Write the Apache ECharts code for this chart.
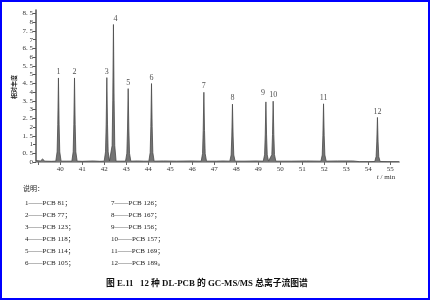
<!DOCTYPE html>
<html>
<head>
<meta charset="utf-8">
<script src="https://cdn.jsdelivr.net/npm/echarts@6/dist/echarts.min.js"></script>
<style>
html,body{margin:0;padding:0;background:#fff;}
#c{width:430px;height:300px;}
</style>
</head>
<body>
<div id="c"></div>
<script>
// Total ion chromatogram trace (retention time in min, relative abundance)
const traceTime = [
  38.90, 39.10, 39.20, 39.30, 39.60,
  39.80, 39.86, 39.89, 39.92, 39.95, 39.98, 40.04,
  40.30,
  40.53, 40.59, 40.62, 40.65, 40.68, 40.71, 40.77,
  41.00, 41.50, 41.80,
  42.00, 42.06, 42.09, 42.12, 42.15, 42.18, 42.24,
  42.30, 42.36, 42.39, 42.42, 42.45, 42.48, 42.54,
  42.75,
  42.97, 43.03, 43.06, 43.09, 43.12, 43.15, 43.21,
  43.50, 43.80,
  44.03, 44.09, 44.12, 44.15, 44.18, 44.21, 44.27,
  44.70, 45.30, 45.90,
  46.41, 46.47, 46.50, 46.53, 46.56, 46.59, 46.65,
  47.10, 47.40,
  47.71, 47.77, 47.80, 47.83, 47.86, 47.89, 47.95,
  48.40, 48.90,
  49.23, 49.29, 49.32, 49.35, 49.38, 49.41, 49.47,
  49.56, 49.62, 49.65, 49.68, 49.71, 49.74, 49.80,
  50.50, 51.20,
  51.85, 51.91, 51.94, 51.97, 52.00, 52.03, 52.09,
  52.60, 53.30, 53.60, 54.00,
  54.30, 54.36, 54.39, 54.42, 54.45, 54.48, 54.54,
  54.90, 55.40
];
const traceAbundance = [
  0.08, 0.06, 0.17, 0.05, 0.04,
  0.05, 0.58, 2.16, 4.81, 2.16, 0.58, 0.05,
  0.05,
  0.05, 0.58, 2.16, 4.81, 2.16, 0.58, 0.05,
  0.04, 0.06, 0.04,
  0.05, 0.58, 2.17, 4.83, 2.17, 0.58, 0.06,
  0.06, 0.94, 3.54, 7.87, 3.54, 0.94, 0.05,
  0.05,
  0.05, 0.50, 1.89, 4.20, 1.89, 0.50, 0.05,
  0.06, 0.05,
  0.05, 0.54, 2.02, 4.49, 2.02, 0.54, 0.05,
  0.06, 0.05, 0.06,
  0.05, 0.48, 1.80, 3.99, 1.80, 0.48, 0.05,
  0.05, 0.06,
  0.05, 0.40, 1.49, 3.31, 1.49, 0.40, 0.05,
  0.05, 0.06,
  0.05, 0.41, 1.55, 3.44, 1.55, 0.41, 0.05,
  0.05, 0.42, 1.57, 3.48, 1.57, 0.42, 0.05,
  0.05, 0.06,
  0.05, 0.40, 1.50, 3.33, 1.50, 0.40, 0.05,
  0.06, 0.06, 0.02, 0.02,
  0.03, 0.31, 1.15, 2.55, 1.15, 0.31, 0.03,
  0.02, 0.02
];

// Peak apexes and their numbers
const peakTime = [39.92, 40.65, 42.12, 42.42, 43.09, 44.15, 46.53, 47.83, 49.35, 49.68, 51.97, 54.42];
const peakHeight = [4.81, 4.81, 4.83, 7.87, 4.20, 4.49, 3.99, 3.31, 3.44, 3.48, 3.33, 2.55];
const peakLabel = ["1","2","3","4","5","6","7","8","9","10","11","12"];

// Axis ticks
const xTickValues = [39,40,41,42,43,44,45,46,47,48,49,50,51,52,53,54,55];
const xLabelValues = [40,41,42,43,44,45,46,47,48,49,50,51,52,53,54,55];
const yTickValues = [0,0.5,1,1.5,2,2.5,3,3.5,4,4.5,5,5.5,6,6.5,7,7.5,8,8.5];
const yTickLabels = ["0","0. 5","1","1. 5","2","2. 5","3","3. 5","4","4. 5","5","5. 5","6","6. 5","7","7. 5","8","8. 5"];

// Legend (说明) entries
const legendLeft = ["1——PCB 81；","2——PCB 77；","3——PCB 123；","4——PCB 118；","5——PCB 114；","6——PCB 105；"];
const legendRight = ["7——PCB 126；","8——PCB 167；","9——PCB 156；","10——PCB 157；","11——PCB 169；","12——PCB 189。"];
const legendTitle = "说明：";
const captionText = "图 E.11   12 种 DL-PCB 的 GC-MS/MS 总离子流图谱";
const yAxisName = "相对丰度";

const serif = '"Liberation Serif", "DejaVu Serif", "Noto Sans CJK SC", serif';

const trace = traceTime.map((t, i) => [t, traceAbundance[i]]);
const peaks = peakTime.map((t, i) => ({
  value: [t, peakHeight[i]],
  name: peakLabel[i],
  label: i === 3 ? { offset: [2, 0] } : (i === 8 ? { offset: [-3, -3] } : {})
}));

const graphics = [];
graphics.push({
  type: 'text', left: 23, top: 186,
  style: { text: legendTitle, font: '7px ' + serif, fill: '#222' }
});
const rowY = [200, 212, 224, 236, 248, 260];
legendLeft.forEach((s, i) => graphics.push({
  type: 'text', left: 25, top: rowY[i],
  style: { text: s, font: '7px ' + serif, fill: '#222' }
}));
legendRight.forEach((s, i) => graphics.push({
  type: 'text', left: 111, top: rowY[i],
  style: { text: s, font: '7px ' + serif, fill: '#222' }
}));
graphics.push({
  type: 'text', x: 207, y: 284,
  style: { text: captionText, font: 'bold 8.8px ' + serif, fill: '#111', align: 'center', verticalAlign: 'middle' }
});
graphics.push({
  type: 'text', x: 14, y: 87, rotation: Math.PI / 2,
  style: { text: yAxisName, font: 'bold 6px "Noto Sans CJK SC", sans-serif', fill: '#222', align: 'center', verticalAlign: 'middle' }
});
graphics.push({
  type: 'text', x: 386, y: 177,
  style: {
    text: '{i|t} / min', align: 'center', verticalAlign: 'middle',
    rich: { i: { fontStyle: 'italic', fontFamily: serif, fontSize: 7, fill: '#333' } },
    font: '7px ' + serif, fill: '#333'
  }
});
graphics.push({
  type: 'rect', silent: true, z: 100,
  shape: { x: 1, y: 1, width: 428, height: 298 },
  style: { fill: 'none', stroke: '#0000ff', lineWidth: 2 }
});

const chart = echarts.init(document.getElementById('c'), null, { renderer: 'canvas' });
chart.setOption({
  animation: false,
  backgroundColor: '#fff',
  grid: { left: 36, right: 31, top: 10, bottom: 138 },
  xAxis: {
    type: 'value', min: 38.9, max: 55.4,
    splitLine: { show: false },
    axisLine: { lineStyle: { color: '#a8a8a8', width: 2 } },
    axisTick: { customValues: xTickValues, length: 3, lineStyle: { color: '#666', width: 1 } },
    axisLabel: { customValues: xLabelValues, fontSize: 7, fontFamily: serif, color: '#333', margin: 4 }
  },
  yAxis: {
    type: 'value', min: 0, max: 8.7,
    splitLine: { show: false },
    axisLine: { show: true, lineStyle: { color: '#555', width: 1.5 } },
    axisTick: { show: true, customValues: yTickValues, length: 3, lineStyle: { color: '#555' } },
    axisLabel: {
      customValues: yTickValues, fontSize: 7, fontFamily: serif, color: '#333', margin: 3,
      formatter: v => { const k = yTickValues.indexOf(+v.toFixed(1)); return k >= 0 ? yTickLabels[k] : ''; }
    }
  },
  series: [
    {
      type: 'line', data: trace, symbol: 'none', smooth: false,
      lineStyle: { color: '#4a4a4a', width: 0.8 },
      areaStyle: { color: '#747474', opacity: 1 },
      z: 3
    },
    {
      type: 'scatter', data: peaks, symbolSize: 0,
      label: { show: true, position: 'top', distance: 2, formatter: p => p.name, fontSize: 8, fontFamily: serif, color: '#222' },
      z: 4
    }
  ],
  graphic: graphics
});
</script>
</body>
</html>
